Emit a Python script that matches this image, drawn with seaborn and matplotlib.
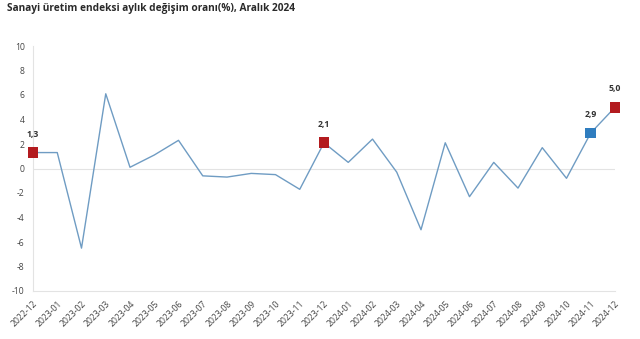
import matplotlib
matplotlib.use("Agg")
import matplotlib.pyplot as plt
import matplotlib.transforms as mtransforms
import seaborn as sns
import pandas as pd

months = ["2022-12", "2023-01", "2023-02", "2023-03", "2023-04", "2023-05", "2023-06",
          "2023-07", "2023-08", "2023-09", "2023-10", "2023-11", "2023-12",
          "2024-01", "2024-02", "2024-03", "2024-04", "2024-05", "2024-06",
          "2024-07", "2024-08", "2024-09", "2024-10", "2024-11", "2024-12"]
values = [1.3, 1.3, -6.5, 6.1, 0.1, 1.1, 2.3, -0.6, -0.7, -0.4, -0.5, -1.7, 2.1,
          0.5, 2.4, -0.3, -5.0, 2.1, -2.3, 0.5, -1.6, 1.7, -0.8, 2.9, 5.0]
highlight_months = ["2022-12", "2023-12", "2024-11", "2024-12"]
highlight_labels = ["1,3", "2,1", "2,9", "5,0"]
highlight_kind = ["Aralık", "Aralık", "Önceki ay", "Aralık"]
yticks = [10, 8, 6, 4, 2, 0, -2, -4, -6, -8, -10]
title = "Sanayi üretim endeksi aylık değişim oranı(%), Aralık 2024"

sns.set_theme(style="white")
plt.rcParams["font.family"] = ["Open Sans", "DejaVu Sans"]

df = pd.DataFrame({"month": months, "value": values})
df["pos"] = range(len(months))
hl = df[df["month"].isin(highlight_months)].copy()
hl["kind"] = highlight_kind
hl["label"] = highlight_labels

fig = plt.figure(figsize=(6.4, 3.39), dpi=100)
ax = fig.add_axes([33 / 640, 1 - 291 / 339, (615 - 33) / 640, (291 - 46) / 339])

ax.axhline(0, color="#e3e3e3", lw=0.8, zorder=0)
sns.lineplot(data=df, x="pos", y="value", ax=ax, color="#6f9cc3", lw=1.0, zorder=2)
sns.scatterplot(data=hl, x="pos", y="value", hue="kind", ax=ax, marker="s", s=62,
                palette={"Aralık": "#b31b1f", "Önceki ay": "#2f7dbf"},
                edgecolor="none", legend=False, zorder=3)
for coll in ax.collections:
    coll.set_clip_on(False)

for _, r in hl.iterrows():
    ax.annotate(r["label"], (r["pos"], r["value"]), xytext=(0, 10), textcoords="offset points",
                ha="center", va="bottom", fontsize=6.2, fontweight="bold", color="#333333")

ax.set_xlim(0, len(months) - 1)
ax.set_ylim(-10, 10)
ax.set_yticks(yticks)
ax.set_yticklabels([str(t) for t in yticks], fontsize=6.2, color="#444444")
ax.set_xticks(df["pos"])
ax.set_xticklabels(months, fontsize=6.2, color="#444444", rotation=45, ha="right",
                   rotation_mode="anchor")
offset = mtransforms.ScaledTranslation(5 / 100, 0, fig.dpi_scale_trans)
for lab in ax.get_xticklabels():
    lab.set_transform(lab.get_transform() + offset)
ax.tick_params(axis="both", length=0, pad=6)
ax.set_xlabel("")
ax.set_ylabel("")

for side in ["top", "right"]:
    ax.spines[side].set_visible(False)
ax.spines["left"].set_color("#e3e3e3")
ax.spines["bottom"].set_color("#e3e3e3")
ax.spines["left"].set_linewidth(0.8)
ax.spines["bottom"].set_linewidth(0.8)

fig.text(7 / 640, 1 - 9 / 339, title, fontsize=7.3, fontweight="bold", color="#2a2a2a",
         ha="left", va="center")

fig.savefig("out.png", dpi=100)
